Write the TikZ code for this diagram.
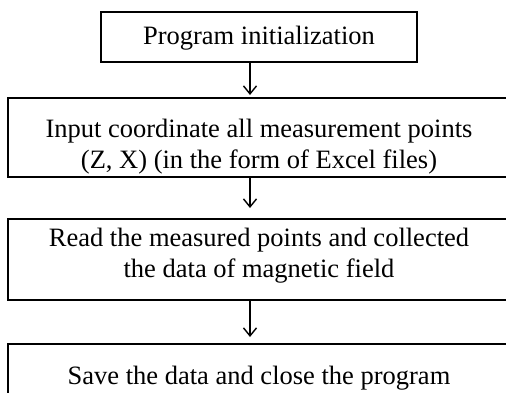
\documentclass[tikz,border=0pt]{standalone}
\usepackage{fontspec}
\setmainfont{Liberation Serif}
\usetikzlibrary{arrows.meta}

\begin{document}
\begin{tikzpicture}[x=1pt,y=1pt,
    stage/.style={draw, line width=1.5pt, inner xsep=0pt, inner ysep=0pt,
        align=center, font=\fontsize{26.5}{31}\selectfont},
    flow/.style={line width=1.4pt, -{Straight Barb[length=8pt,width=13pt]}}]
\useasboundingbox (0,0) rectangle (506,-392);
\clip (0,0) rectangle (506,-392);

% the four steps, top to bottom
\node [stage, minimum width=316pt, text height=33pt, text depth=17pt, anchor=north]
    (init) at (259,-11) {Program initialization};
\node [stage, minimum width=502pt, text height=71pt, text depth=8pt, anchor=north]
    (input) at (259,-97) {Input coordinate all measurement points\\(Z, X) (in the form of Excel files)};
\node [stage, minimum width=502pt, text height=59pt, text depth=22pt, anchor=north]
    (read) at (259,-218) {Read the measured points and collected\\the data of magnetic field};
\node [stage, minimum width=502pt, text height=41pt, text depth=30pt, anchor=north]
    (save) at (259,-343) {Save the data and close the program};

% arrows between the steps
\draw [flow, shorten >=2pt]  ([xshift=-9pt]init.south)  -- ([xshift=-9pt]input.north);
\draw [flow, shorten >=10pt] ([xshift=-9pt]input.south) -- ([xshift=-9pt]read.north);
\draw [flow, shorten >=6pt]  ([xshift=-9pt]read.south)  -- ([xshift=-9pt]save.north);
\end{tikzpicture}
\end{document}
